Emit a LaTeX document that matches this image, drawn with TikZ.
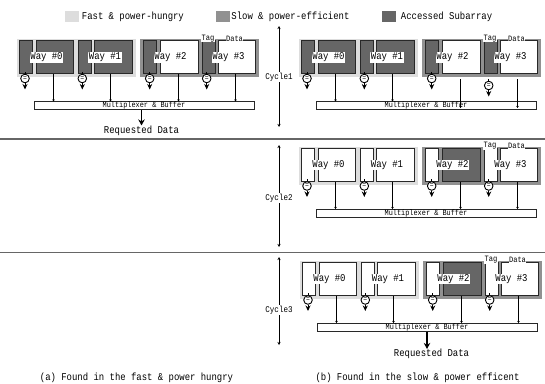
\documentclass[tikz,border=0pt]{standalone}
\usepackage{fontspec}
\setmainfont[FakeStretch=0.86]{Liberation Mono}
\usepackage{xcolor}
\usetikzlibrary{arrows.meta, positioning}
\definecolor{fastgray}{RGB}{221, 221, 221}
\definecolor{slowgray}{RGB}{145, 145, 145}
\definecolor{accessgray}{RGB}{102, 102, 102}
\definecolor{edgegray}{RGB}{40, 40, 40}
\tikzset{
    groupbg/.style={rectangle, minimum width=119pt, minimum height=38pt, inner sep=0pt},
    tagbox/.style={rectangle, draw=edgegray, line width=1pt, minimum width=12.7pt, minimum height=33.3pt, inner sep=0pt},
    databox/.style={rectangle, draw=edgegray, line width=1pt, minimum width=37.5pt, minimum height=33.3pt, inner sep=0pt},
    waylabel/.style={fill=white, inner sep=0.6pt, font=\fontsize{10.4}{10.4}\selectfont},
    smalllabel/.style={fill=white, inner sep=0.3pt, font=\fontsize{8.2}{8.2}\selectfont},
    muxbox/.style={rectangle, draw=edgegray, line width=0.8pt, fill=white, minimum width=220pt, minimum height=8pt, inner sep=0pt, text height=5pt, text depth=1pt, font=\fontsize{8}{8}\selectfont},
    cmpnode/.style={circle, draw=black, line width=0.9pt, fill=white, minimum size=8.6pt, inner sep=0pt, font=\fontsize{7.5}{7.5}\selectfont},
    wire/.style={-{Stealth[length=2pt, width=2.5pt]}, line width=1.1pt, black},
    cmpout/.style={-{Stealth[length=5.5pt, width=5pt]}, line width=0.9pt, black},
    dataout/.style={-{Stealth[length=6pt, width=6.5pt]}, line width=1.2pt, black},
    plaintext/.style={inner sep=0pt, font=\fontsize{10.4}{10.4}\selectfont},
    swatch/.style={rectangle, minimum width=14pt, minimum height=11pt, inner sep=0pt},
    cyclelabel/.style={fill=white, inner sep=0.5pt, font=\fontsize{8.8}{8.8}\selectfont},
}
% one cycle: prefix, dx, dy, tag fill, fill of ways 0 and 1, fill of way 2, delay
\newcommand{\wayrow}[7]{
\begin{scope}[shift={(#2,#3)}, name prefix=#1-]
    \node [groupbg, fill=fastgray] (fastbg) at (76,58) {};
    \node [groupbg, fill=slowgray] (slowbg) at (199.5,58) {};
    \node [muxbox] (mux) at (144,105.7) {Multiplexer \& Buffer};
    \foreach \i/\tx/\dx/\lx/\cx/\ox/\df/\w/\c in {0/26.3/55/46.5/25/53.5/#5/0/0, 1/84.7/113.3/105/82.3/110.5/#5/0/0, 2/150.3/179.5/170.5/149.7/178.5/#6/1/0, 3/208.7/237/228.5/206.7/235.5/white/1/1} {
        \node [tagbox, fill=#4] (tag\i) at (\tx,57.3) {};
        \node [databox, fill=\df] (data\i) at (\dx,57.3) {};
        \node [waylabel] (way\i) at (\lx,57.5) {Way \#\i};
        \node [cmpnode] (cmp\i) at (\cx,78.5+\c*#7*1.4) {=};
        \coordinate (stub\i) at ([yshift=2pt]cmp\i.north);
        \coordinate (cmpend\i) at (\cx,89.5+\c*#7*1.4);
        \coordinate (start\i) at (\ox,74+\w*#7);
        \coordinate (stop\i) at (\ox,101.5+\w*#7*1.3);
        \draw [line width=0.8pt] (stub\i) -- (cmp\i);
        \draw [cmpout] (cmp\i) -- (cmpend\i);
        \draw [wire] (start\i) -- (stop\i);
    }
    \node [smalllabel] (taglabel) at (208,38.5) {Tag};
    \node [smalllabel] (datalabel) at (234.5,38.5) {Data};
\end{scope}
}

\begin{document}
\begin{tikzpicture}[x=1pt, y=-1pt]
    \useasboundingbox (0,0) rectangle (545,383);

    % legend
    \node [swatch, fill=fastgray] (fastkey) at (72,16.5) {};
    \node [plaintext, right=2.5pt of fastkey] (fasttext) {Fast \& power-hungry};
    \node [swatch, fill=slowgray] (slowkey) at (223,16.5) {};
    \node [plaintext, right=1pt of slowkey] (slowtext) {Slow \& power-efficient};
    \node [swatch, fill=accessgray] (accesskey) at (388.5,16.5) {};
    \node [plaintext, right=5pt of accesskey] (accesstext) {Accessed Subarray};

    % rows
    \wayrow{fastone}{0}{0}{accessgray}{accessgray}{white}{0}
    \wayrow{slowone}{282}{0}{accessgray}{accessgray}{white}{5}
    \wayrow{slowtwo}{282}{107.5}{white}{white}{accessgray}{0}
    \wayrow{slowthree}{283}{221.5}{white}{white}{accessgray}{0}

    % separators and cycle arrows
    \foreach \n/\y in {a/139, b/252.5} {
        \coordinate (rule\n l) at (0,\y);
        \coordinate (rule\n r) at (545,\y);
        \draw [line width=1.1pt, black!60] (rule\n l) -- (rule\n r);
    }
    \foreach \i/\t/\b/\l in {1/26/127/77, 2/145/247/198, 3/257/345/310} {
        \coordinate (cycletop\i) at (279,\t);
        \coordinate (cyclebot\i) at (279,\b);
        \draw [{Stealth[length=3pt, width=3pt]}-{Stealth[length=3pt, width=3pt]}, line width=0.8pt] (cycletop\i) -- (cyclebot\i);
        \node [cyclelabel] (cycle\i) at (279,\l) {Cycle\i};
    }

    % results
    \node [plaintext] (reqfast) at (141.5,130.5) {Requested Data};
    \draw [dataout] ([xshift=-2.5pt]fastone-mux.south) -- (reqfast.north);
    \node [plaintext] (reqslow) at (431.5,354) {Requested Data};
    \draw [dataout] (slowthree-mux.south) -- (slowthree-mux.south |- reqslow.north);

    % captions
    \node [plaintext] (capa) at (136.5,378) {(a) Found in the fast \& power hungry};
    \node [plaintext] (capb) at (417.5,377.5) {(b) Found in the slow \& power efficent};
\end{tikzpicture}
\end{document}
